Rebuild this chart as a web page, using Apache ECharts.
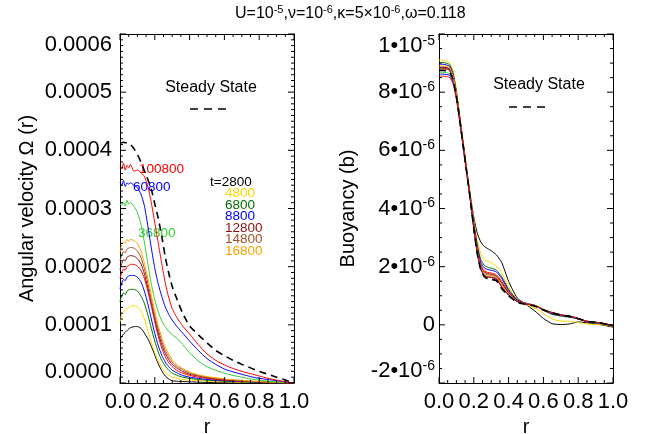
<!DOCTYPE html>
<html>
<head>
<meta charset="utf-8">
<script src="https://cdn.jsdelivr.net/npm/echarts@6/dist/echarts.min.js"></script>
<style>html,body{margin:0;padding:0;background:#fff;}#chart{width:648px;height:434px;}</style>
</head>
<body>
<div id="chart"></div>
<script>
// ---------- DATA ----------
// radius grid, left panel (angular velocity, units of 1e-4)
const rL = [0,0.01,0.02,0.03,0.04,0.05,0.06,0.08,0.10,0.12,0.14,0.16,0.18,0.20,0.22,0.24,0.26,0.28,0.30,0.33,0.36,0.40,0.45,0.50,0.55,0.60,0.65,0.70,0.75,0.80,0.85,0.90,0.95,1.0];
const omega_t2800   = [0.74,0.80,0.84,0.87,0.90,0.93,0.95,0.97,0.97,0.94,0.86,0.76,0.63,0.48,0.33,0.21,0.12,0.07,0.04,0.03,0.025,0.02,0.015,0.01,0.008,0.006,0.005,0.004,0.003,0.002,0.002,0.001,0.001,0];
const omega_t4800   = [1.05,1.18,1.22,1.26,1.28,1.30,1.32,1.33,1.31,1.24,1.10,0.90,0.70,0.52,0.37,0.26,0.18,0.13,0.10,0.08,0.06,0.05,0.04,0.03,0.02,0.02,0.015,0.01,0.008,0.006,0.004,0.003,0.001,0];
const omega_t6800   = [1.40,1.50,1.55,1.52,1.58,1.60,1.61,1.61,1.58,1.50,1.37,1.17,0.94,0.72,0.53,0.39,0.29,0.22,0.17,0.13,0.10,0.08,0.06,0.05,0.04,0.03,0.025,0.02,0.015,0.01,0.008,0.005,0.002,0];
const omega_t8800   = [1.62,1.72,1.78,1.76,1.82,1.84,1.85,1.85,1.82,1.74,1.58,1.36,1.10,0.85,0.64,0.48,0.36,0.28,0.22,0.17,0.13,0.10,0.08,0.06,0.05,0.04,0.03,0.025,0.02,0.015,0.01,0.007,0.003,0];
const omega_t10800  = [1.80,1.90,1.96,1.94,2.00,2.02,2.04,2.04,2.01,1.94,1.80,1.58,1.32,1.05,0.80,0.60,0.45,0.35,0.28,0.21,0.17,0.13,0.10,0.08,0.06,0.05,0.04,0.03,0.025,0.02,0.013,0.008,0.004,0];
const omega_t12800  = [1.95,2.05,2.12,2.10,2.16,2.18,2.19,2.18,2.14,2.05,1.88,1.64,1.37,1.10,0.86,0.66,0.51,0.40,0.32,0.25,0.20,0.15,0.12,0.09,0.07,0.06,0.045,0.035,0.028,0.02,0.015,0.01,0.005,0];
const omega_t14800  = [2.10,2.20,2.26,2.24,2.30,2.32,2.33,2.32,2.27,2.16,1.97,1.72,1.44,1.16,0.92,0.72,0.56,0.45,0.36,0.28,0.23,0.17,0.13,0.10,0.08,0.065,0.05,0.04,0.03,0.022,0.016,0.011,0.005,0];
const omega_t16800  = [2.25,2.38,2.42,2.40,2.47,2.44,2.47,2.45,2.40,2.27,2.06,1.80,1.51,1.23,0.98,0.78,0.62,0.50,0.40,0.31,0.25,0.19,0.14,0.11,0.09,0.07,0.055,0.045,0.035,0.025,0.018,0.012,0.006,0];
const omega_t36800  = [3.08,3.05,3.10,3.04,3.14,3.08,3.10,3.04,2.93,2.74,2.42,2.05,1.70,1.43,1.22,1.07,0.97,0.89,0.83,0.76,0.66,0.52,0.38,0.28,0.22,0.17,0.13,0.10,0.07,0.05,0.03,0.02,0.01,0];
const omega_t60800  = [3.45,3.40,3.48,3.38,3.44,3.42,3.44,3.40,3.36,3.25,3.05,2.70,2.32,1.97,1.70,1.49,1.31,1.18,1.08,0.96,0.86,0.72,0.56,0.42,0.32,0.24,0.19,0.15,0.11,0.08,0.06,0.04,0.02,0];
const omega_t100800 = [3.72,3.68,3.78,3.66,3.74,3.70,3.76,3.64,3.66,3.62,3.55,3.38,3.10,2.75,2.40,2.05,1.72,1.47,1.28,1.11,0.98,0.84,0.66,0.50,0.39,0.31,0.25,0.20,0.16,0.12,0.08,0.05,0.02,0];
const omega_steady  = [4.13,4.13,4.14,4.13,4.13,4.12,4.10,4.03,3.93,3.80,3.65,3.50,3.33,3.08,2.83,2.52,2.17,1.89,1.66,1.42,1.20,0.98,0.83,0.69,0.56,0.47,0.39,0.32,0.26,0.20,0.15,0.10,0.05,0];

// radius grid, right panel (buoyancy, units of 1e-6)
const rR = [0,0.02,0.04,0.06,0.08,0.10,0.12,0.14,0.16,0.18,0.20,0.22,0.24,0.26,0.28,0.30,0.33,0.36,0.40,0.45,0.50,0.55,0.60,0.65,0.70,0.75,0.80,0.85,0.90,0.95,1.0];
const b_t2800   = [8.85,8.85,8.84,8.80,8.55,7.95,7.10,6.20,5.30,4.45,3.70,3.15,2.85,2.70,2.62,2.55,2.40,2.15,1.50,0.92,0.70,0.48,0.22,0.04,0.01,0.03,0.10,0.07,0.03,-0.02,-0.08];
const b_t4800   = [9.10,9.10,9.08,9.02,8.75,8.10,7.20,6.28,5.35,4.45,3.60,2.90,2.45,2.25,2.18,2.14,2.02,1.80,1.30,0.88,0.70,0.58,0.40,0.20,0.13,0.12,0.08,0.03,0.01,0.00,-0.05];
const b_t6800   = [9.02,9.02,9.00,8.95,8.68,8.02,7.12,6.20,5.28,4.38,3.50,2.75,2.25,2.05,1.98,1.95,1.88,1.66,1.22,0.86,0.74,0.66,0.50,0.36,0.30,0.26,0.20,0.10,0.06,0.03,-0.03];
const b_t8800   = [8.96,8.96,8.94,8.89,8.62,7.97,7.08,6.17,5.26,4.36,3.45,2.68,2.15,1.96,1.90,1.88,1.82,1.60,1.18,0.85,0.74,0.67,0.52,0.38,0.32,0.28,0.21,0.11,0.07,0.03,-0.03];
const b_t10800  = [8.82,8.82,8.81,8.76,8.50,7.90,7.04,6.14,5.23,4.33,3.40,2.60,2.06,1.86,1.80,1.78,1.72,1.50,1.12,0.83,0.73,0.67,0.53,0.40,0.33,0.29,0.22,0.12,0.08,0.04,-0.03];
const b_t12800  = [8.86,8.86,8.85,8.80,8.54,7.93,7.06,6.15,5.24,4.33,3.38,2.57,2.02,1.82,1.76,1.74,1.68,1.45,1.09,0.82,0.73,0.67,0.53,0.41,0.34,0.29,0.22,0.12,0.09,0.04,-0.03];
const b_t14800  = [8.80,8.80,8.79,8.74,8.49,7.88,7.02,6.12,5.22,4.32,3.36,2.54,1.98,1.78,1.72,1.70,1.65,1.40,1.07,0.81,0.73,0.67,0.53,0.42,0.34,0.30,0.22,0.12,0.09,0.04,-0.03];
const b_t16800  = [8.90,8.90,8.89,8.84,8.58,7.95,7.06,6.15,5.24,4.32,3.35,2.52,1.96,1.76,1.70,1.68,1.63,1.38,1.05,0.81,0.73,0.67,0.53,0.42,0.35,0.30,0.22,0.12,0.09,0.04,-0.03];
const b_t36800  = [8.68,8.68,8.67,8.63,8.40,7.82,6.98,6.08,5.18,4.28,3.30,2.46,1.91,1.71,1.65,1.64,1.59,1.32,1.03,0.80,0.72,0.66,0.52,0.42,0.34,0.30,0.22,0.12,0.09,0.04,-0.03];
const b_t60800  = [8.62,8.62,8.61,8.58,8.36,7.80,6.97,6.08,5.18,4.29,3.31,2.46,1.91,1.70,1.64,1.63,1.58,1.31,1.02,0.80,0.72,0.66,0.52,0.42,0.34,0.30,0.22,0.12,0.09,0.04,-0.03];
const b_t100800 = [8.55,8.55,8.54,8.51,8.30,7.76,6.95,6.07,5.18,4.30,3.32,2.47,1.91,1.70,1.64,1.63,1.58,1.30,1.02,0.80,0.72,0.66,0.52,0.42,0.34,0.30,0.22,0.12,0.09,0.04,-0.03];
const b_steady  = [8.75,8.75,8.74,8.70,8.45,7.85,7.00,6.10,5.20,4.30,3.30,2.45,1.90,1.66,1.58,1.56,1.52,1.25,1.00,0.78,0.70,0.64,0.51,0.41,0.34,0.29,0.21,0.12,0.09,0.04,-0.03];

// tick labels
const xTickLabels = ['0.0','0.2','0.4','0.6','0.8','1.0'];
const leftYTickLabels = ['0.0000','0.0001','0.0002','0.0003','0.0004','0.0005','0.0006'];
const rightTickMant = ['-2•10','0','2•10','4•10','6•10','8•10','1•10'];
const rightTickExp  = ['-6','','-6','-6','-6','-6','-5'];
const timeLabels = ['t=2800','4800','6800','8800','12800','14800','16800'];
const lateLabels = ['100800','60800','36800'];

// ---------- CHART ----------
const FONT = "'Liberation Sans', Arial, Helvetica, sans-serif";
const C = {k:'#000000', y:'#FFD400', dg:'#007000', b:'#0000FF', r:'#FF0000', dr:'#8B1010', br:'#A0522D', o:'#FFA500', g:'#33CC33'};
const GW = 174, GH = 349;

const leftSeries = [
  [omega_t2800, C.k], [omega_t4800, C.y], [omega_t6800, C.dg], [omega_t8800, C.b],
  [omega_t10800, C.r], [omega_t12800, C.dr], [omega_t14800, C.br], [omega_t16800, C.o],
  [omega_t36800, C.g], [omega_t60800, C.b], [omega_t100800, C.r], [omega_steady, C.k, true]
];
const rightSeries = [
  [b_t2800, C.k], [b_t4800, C.y], [b_t6800, C.dg], [b_t8800, C.b],
  [b_t10800, C.r], [b_t12800, C.dr], [b_t14800, C.br], [b_t16800, C.o],
  [b_t36800, C.g], [b_t60800, C.b], [b_t100800, C.r], [b_steady, C.k, true]
];

function mk(arr, rs, scale, color, dashed, xi, yi) {
  return {
    type: 'line', xAxisIndex: xi, yAxisIndex: yi, showSymbol: false, smooth: 0.2,
    silent: true, animation: false,
    lineStyle: dashed ? {color: color, width: 1.6, type: [7, 5]} : {color: color, width: 1},
    data: rs.map((r, i) => [r, arr[i] * scale])
  };
}
const series = [];
leftSeries.forEach(s => series.push(mk(s[0], rL, 1e-4, s[1], s[2], 0, 0)));
rightSeries.forEach(s => series.push(mk(s[0], rR, 1e-6, s[1], s[2], 2, 2)));

// ---- inward box ticks, drawn through the axes' own scales ----
function tickItems(xMajors, xMinorSplit, yMajors, yMinorSplit, xMin, xMax, yMin, yMax) {
  const items = [];
  function addAlong(majors, split, cb) {
    for (let i = 0; i < majors.length; i++) {
      cb(majors[i], 6);
      if (i < majors.length - 1) {
        const step = (majors[i + 1] - majors[i]) / split;
        for (let k = 1; k < split; k++) cb(majors[i] + k * step, 3);
      }
    }
  }
  addAlong(xMajors, xMinorSplit, (u, len) => { items.push([u, yMin, 2, len]); items.push([u, yMax, 3, len]); });
  addAlong(yMajors, yMinorSplit, (v, len) => { items.push([xMin, v, 0, len]); items.push([xMax, v, 1, len]); });
  return items;
}
function tickSeries(xi, yi, items) {
  return {
    type: 'custom', xAxisIndex: xi, yAxisIndex: yi, silent: true, animation: false, clip: false, z: 4,
    data: items,
    renderItem: function (params, api) {
      const p = api.coord([api.value(0), api.value(1)]);
      const side = api.value(2), len = api.value(3);
      let x2 = p[0], y2 = p[1];
      if (side === 0) x2 += len; else if (side === 1) x2 -= len; else if (side === 2) y2 -= len; else y2 += len;
      return {type: 'line', shape: {x1: p[0], y1: p[1], x2: x2, y2: y2}, style: {stroke: '#000', lineWidth: 1}};
    }
  };
}
const xMajors = xTickLabels.map(parseFloat);
const leftYMajors = leftYTickLabels.map(parseFloat);
const rightYMajors = rightTickMant.map((m, i) => -2e-6 + i * 2e-6);
series.push(tickSeries(0, 0, tickItems(xMajors, 4, leftYMajors, 10, 0, 1, 0, 0.0006)));
series.push(tickSeries(2, 2, tickItems(xMajors, 4, rightYMajors, 4, 0, 1, -2e-6, 1e-5)));

const lineK = () => ({show: true, onZero: false, lineStyle: {color: '#000', width: 1}});
function xAx(grid, pos, labels) {
  return {
    type: 'value', gridIndex: grid, position: pos, min: 0, max: 1, interval: 0.2,
    axisLine: lineK(), splitLine: {show: false}, axisTick: {show: false}, minorTick: {show: false},
    axisLabel: labels ? {show: true, fontSize: 22, fontFamily: FONT, color: '#000', margin: 8,
      formatter: v => xTickLabels[Math.round(v / 0.2)]} : {show: false},
    name: labels ? 'r' : '', nameLocation: 'middle', nameGap: 33,
    nameTextStyle: {fontSize: 20, fontFamily: FONT, color: '#000'}
  };
}
function yAx(grid, pos, min, max, interval, labelCfg, name, nameGap) {
  return {
    type: 'value', gridIndex: grid, position: pos, min: min, max: max, interval: interval,
    axisLine: lineK(), splitLine: {show: false}, axisTick: {show: false}, minorTick: {show: false},
    axisLabel: labelCfg || {show: false},
    name: name || '', nameLocation: 'middle', nameGap: nameGap || 0,
    nameTextStyle: {fontSize: 20, fontFamily: FONT, color: '#000'}
  };
}

const leftLabelCfg = {
  show: true, fontSize: 22, fontFamily: FONT, color: '#000', margin: 8,
  verticalAlignMaxLabel: 'top', verticalAlignMinLabel: 'bottom',
  formatter: v => leftYTickLabels[Math.round(v / 0.0001)]
};
const rightLabelCfg = {
  show: true, color: '#000', margin: 4,
  verticalAlignMaxLabel: 'top', verticalAlignMinLabel: 'bottom',
  formatter: v => {
    const i = Math.round((v + 2e-6) / 2e-6);
    return rightTickExp[i] ? '{m|' + rightTickMant[i] + '}{s|' + rightTickExp[i] + '}' : '{m|' + rightTickMant[i] + '}';
  },
  rich: {
    m: {fontSize: 22, fontFamily: FONT, color: '#000', lineHeight: 24},
    s: {fontSize: 14, fontFamily: FONT, color: '#000', lineHeight: 14, verticalAlign: 'top'}
  }
};

const txt = (x, y, text, color, size, align) => ({
  type: 'text', x: x, y: y, silent: true,
  style: {text: text, fill: color, font: (size || 13.5) + 'px ' + FONT, textAlign: align || 'left', textVerticalAlign: 'middle', verticalAlign: 'middle'}
});
const tColors = [C.k, C.y, C.dg, C.b, C.dr, C.br, C.o];
const graphics = [];
graphics.push(txt(211, 88, 'Steady State', '#000', 16, 'center'));
graphics.push({type: 'line', silent: true, shape: {x1: 190, y1: 109, x2: 226, y2: 109}, style: {stroke: '#000', lineWidth: 1.6, lineDash: [8, 6]}});
graphics.push(txt(539, 85, 'Steady State', '#000', 16, 'center'));
graphics.push({type: 'line', silent: true, shape: {x1: 509, y1: 107, x2: 545, y2: 107}, style: {stroke: '#000', lineWidth: 1.6, lineDash: [8, 6]}});
timeLabels.forEach((t, i) => graphics.push(txt(i === 0 ? 210 : 225, 182 + i * 11.5, t, tColors[i])));
graphics.push(txt(139, 169, lateLabels[0], C.r));
graphics.push(txt(133, 187, lateLabels[1], C.b));
graphics.push(txt(138, 233, lateLabels[2], C.g));

const option = {
  backgroundColor: '#fff',
  animation: false,
  title: {
    text: '{m|U=10}{s|-5}{m|,ν=10}{s|-6}{m|,κ=5×10}{s|-6}{m|,ω=0.118}',
    left: 235, top: 4, padding: 0,
    textStyle: {
      fontWeight: 'normal',
      rich: {
        m: {fontSize: 16, fontFamily: FONT, color: '#000', fontWeight: 'normal', lineHeight: 20},
        s: {fontSize: 11, fontFamily: FONT, color: '#000', fontWeight: 'normal', lineHeight: 11, verticalAlign: 'top'}
      }
    }
  },
  grid: [
    {left: 120, top: 34, width: GW, height: GH, outerBoundsMode: 'none'},
    {left: 439, top: 34, width: GW, height: GH, outerBoundsMode: 'none'}
  ],
  xAxis: [xAx(0, 'bottom', true), xAx(0, 'top', false), xAx(1, 'bottom', true), xAx(1, 'top', false)],
  yAxis: [
    yAx(0, 'left', 0, 0.0006, 0.0001, leftLabelCfg, 'Angular velocity Ω (r)', 83),
    yAx(0, 'right', 0, 0.0006, 0.0001, null),
    yAx(1, 'left', -2e-6, 1e-5, 2e-6, rightLabelCfg, 'Buoyancy (b)', 81),
    yAx(1, 'right', -2e-6, 1e-5, 2e-6, null)
  ],
  graphic: graphics,
  series: series
};
const chart = echarts.init(document.getElementById('chart'), null, {renderer: 'canvas'});
chart.setOption(option);
</script>
</body>
</html>
